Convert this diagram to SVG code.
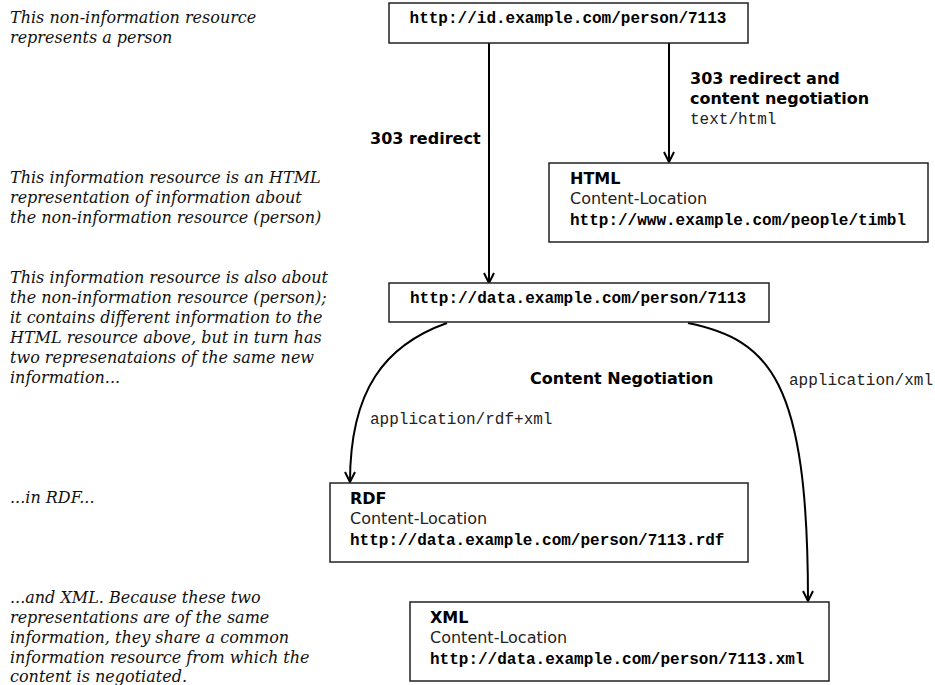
<svg xmlns="http://www.w3.org/2000/svg" width="935" height="685" viewBox="0 0 935 685">
<style>
.note{font-family:"DejaVu Serif","Liberation Serif",serif;font-style:italic;font-size:16px;fill:#111}
.box{fill:#fff;stroke:#222;stroke-width:1.5}
.url{font-family:"Liberation Mono","Courier New",monospace;font-weight:bold;font-size:16px;fill:#000}
.mono{font-family:"Liberation Mono","Courier New",monospace;font-size:16px;fill:#222}
.bold{font-family:"DejaVu Sans","Liberation Sans",sans-serif;font-weight:bold;font-size:16px;fill:#000}
.sans{font-family:"DejaVu Sans","Liberation Sans",sans-serif;font-size:16px;fill:#222}
.conn{fill:none;stroke:#000;stroke-width:2}
</style>
<defs>
<marker id="arr" viewBox="-2 -7 14 14" markerWidth="14" markerHeight="14" refX="10" refY="0" orient="auto" markerUnits="userSpaceOnUse">
<path d="M0,-5 L10,0 L0,5" fill="none" stroke="#000" stroke-width="2"/>
</marker>
</defs>
<rect width="935" height="685" fill="#fff"/>
<g id="notes">
<text class="note" x="10" y="23">This non-information resource</text>
<text class="note" x="10" y="43">represents a person</text>
<text class="note" x="10" y="183">This information resource is an HTML</text>
<text class="note" x="10" y="203">representation of information about</text>
<text class="note" x="10" y="223">the non-information resource (person)</text>
<text class="note" x="10" y="283">This information resource is also about</text>
<text class="note" x="10" y="303">the non-information resource (person);</text>
<text class="note" x="10" y="323">it contains different information to the</text>
<text class="note" x="10" y="343">HTML resource above, but in turn has</text>
<text class="note" x="10" y="363">two represenataions of the same new</text>
<text class="note" x="10" y="383">information...</text>
<text class="note" x="10" y="503">...in RDF...</text>
<text class="note" x="10" y="603">...and XML. Because these two</text>
<text class="note" x="10" y="623">representations are of the same</text>
<text class="note" x="10" y="643">information, they share a common</text>
<text class="note" x="10" y="663">information resource from which the</text>
<text class="note" x="10" y="682">content is negotiated.</text>
</g>
<g id="connectors">
<line class="conn" x1="489" y1="43" x2="489" y2="283" marker-end="url(#arr)"/>
<line class="conn" x1="669" y1="43" x2="669" y2="162" marker-end="url(#arr)"/>
<path class="conn" d="M447,323 C385,345 350,390 350,482" marker-end="url(#arr)"/>
<path class="conn" d="M688,323 C770,340 808,380 808,601" marker-end="url(#arr)"/>
<text class="bold" x="370" y="144">303 redirect</text>
<text class="bold" x="690" y="84">303 redirect and</text>
<text class="bold" x="690" y="104">content negotiation</text>
<text class="mono" x="690" y="124">text/html</text>
<text class="bold" x="530" y="384">Content Negotiation</text>
<text class="mono" x="789" y="385">application/xml</text>
<text class="mono" x="370" y="424">application/rdf+xml</text>
</g>
<g id="node-id">
<rect class="box" x="389" y="3" width="359" height="40"/>
<text class="url" x="568" y="23" text-anchor="middle">http://id.example.com/person/7113</text>
</g>
<g id="node-html">
<rect class="box" x="549" y="163" width="379" height="79"/>
<text class="bold" x="570" y="184">HTML</text>
<text class="sans" x="570" y="204">Content-Location</text>
<text class="url" x="570" y="225">http://www.example.com/people/timbl</text>
</g>
<g id="node-data">
<rect class="box" x="389" y="283" width="380" height="39"/>
<text class="url" x="578" y="303" text-anchor="middle">http://data.example.com/person/7113</text>
</g>
<g id="node-rdf">
<rect class="box" x="330" y="483" width="418" height="79"/>
<text class="bold" x="350" y="504">RDF</text>
<text class="sans" x="350" y="524">Content-Location</text>
<text class="url" x="350" y="545">http://data.example.com/person/7113.rdf</text>
</g>
<g id="node-xml">
<rect class="box" x="410" y="602" width="419" height="79"/>
<text class="bold" x="430" y="623">XML</text>
<text class="sans" x="430" y="643">Content-Location</text>
<text class="url" x="430" y="664">http://data.example.com/person/7113.xml</text>
</g>
</svg>
